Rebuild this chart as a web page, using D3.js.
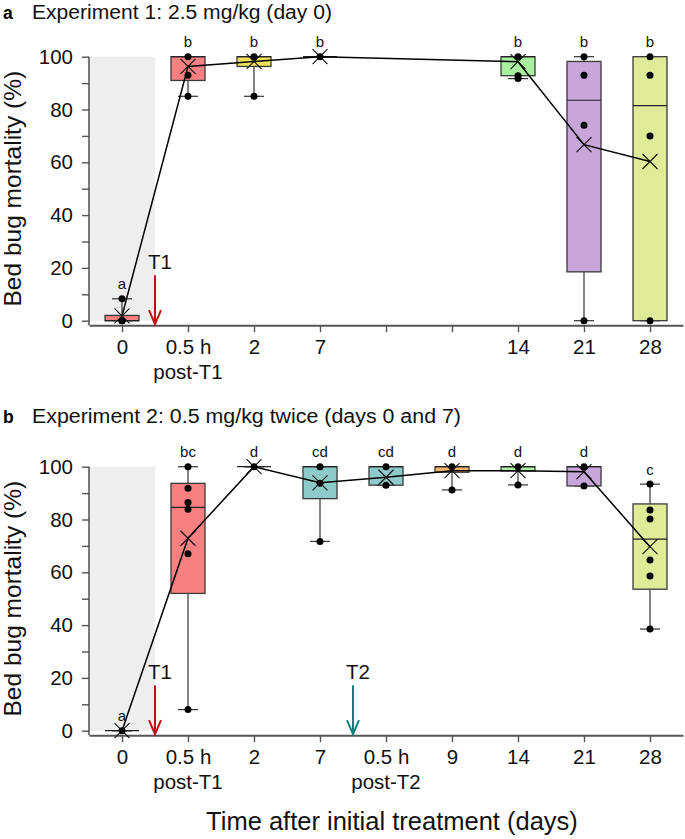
<!DOCTYPE html>
<html>
<head>
<meta charset="utf-8">
<script src="https://cdn.jsdelivr.net/npm/d3@7"></script>
<style>
  body { margin: 0; background: #fff; }
  svg { display: block; font-family: "Liberation Sans", Arial, sans-serif; }
</style>
</head>
<body>
<svg id="chart" width="685" height="839"></svg>
<script>
// ---------- data ----------
const tickLabelsA = ["0", "0.5 h", "2", "7", "", "", "14", "21", "28"];
const subLabelsA  = ["", "post-T1", "", "", "", "", "", "", ""];
const tickLabelsB = ["0", "0.5 h", "2", "7", "0.5 h", "9", "14", "21", "28"];
const subLabelsB  = ["", "post-T1", "", "", "post-T2", "", "", "", ""];

// Experiment 1 (panel a)
const posA     = [0, 1, 2, 3, 6, 7, 8];
const lettersA = ["a", "b", "b", "b", "b", "b", "b"];
const colorsA  = ["#f88080", "#f88080", "#f0e05a", "#8ecaca", "#a8f0a0", "#c8a6da", "#e0eb9a"];
const q1A   = [0, 91, 96.3, 100, 92.8, 18.5, 0];
const medA  = [0, 100, 100, 100, 100, 83.5, 81.5];
const q3A   = [2, 100, 100, 100, 100, 98.2, 100];
const loA   = [0, 85, 85, 100, 91.7, 0, 0];
const hiA   = [8.3, 100, 100, 100, 100, 100, 100];
const meanA = [1.8, 96.3, 98.2, 100, 98.1, 66.7, 60.3];
const ptsA  = [[8.3, 0, 0], [100, 93, 85], [100, 85], [100], [100, 92.8, 91.7], [100, 93, 74, 0], [100, 93, 70, 0]];

// Experiment 2 (panel b)
const posB     = [0, 1, 2, 3, 4, 5, 6, 7, 8];
const lettersB = ["a", "bc", "d", "cd", "cd", "d", "d", "d", "c"];
const colorsB  = ["#f88080", "#f88080", "#f0e05a", "#8ecaca", "#8ecaca", "#f7b46a", "#a8f0a0", "#c8a6da", "#e0eb9a"];
const q1B   = [0, 52, 100, 87.9, 93, 97.9, 98.4, 92.7, 53.6];
const medB  = [0, 84.6, 100, 100, 100, 100, 100, 100, 72.6];
const q3B   = [0, 93.7, 100, 100, 100, 100, 100, 100, 85.9];
const loB   = [0, 8, 100, 71.7, 93, 91.2, 93.1, 92.7, 38.5];
const hiB   = [0, 100, 100, 100, 100, 100, 100, 100, 93.4];
const meanB = [0, 72.9, 100, 93.9, 96, 98.5, 98.5, 98.1, 69.7];
const ptsB  = [[0], [100, 91.8, 86.4, 83.9, 67, 8], [100], [100, 93.7, 71.7], [100, 93], [100, 91.2], [100, 93.1], [100, 92.7], [93.4, 83.6, 80.2, 64.7, 58.6, 38.5]];

const yTicks = [0, 10, 20, 30, 40, 50, 60, 70, 80, 90, 100];

// ---------- drawing ----------
const svg = d3.select("#chart");
const x = d3.scaleLinear().domain([-0.5, 8.5]).range([89, 683]);
const boxW = 34, capW = 20;
const tickFont = 20.5;

function drawPanel(o) {
  const y = d3.scaleLinear().domain([0, 100]).range([o.y0, o.y0 - 264]);
  const axisY = o.y0 + 4.5;
  const g = svg.append("g");

  // title
  g.append("text").attr("x", 3).attr("y", o.titleY).attr("font-size", 17.5).attr("font-weight", "bold").text(o.tag);
  g.append("text").attr("x", 32).attr("y", o.titleY).attr("font-size", 19.5).attr("fill", "#111")
    .attr("textLength", o.titleLen).attr("lengthAdjust", "spacingAndGlyphs").text(o.title);

  // shaded region before treatment
  g.append("rect").attr("x", x(-0.5) + 1).attr("y", y(100))
    .attr("width", x(0.5) - x(-0.5) - 1).attr("height", y(0) - y(100)).attr("fill", "#eeeeee");

  // y axis
  const ya = g.append("g").attr("transform", `translate(${x(-0.5)},0)`)
    .call(d3.axisLeft(y).tickValues(yTicks).tickSize(7).tickSizeOuter(0)
      .tickFormat(d => d % 20 === 0 ? d : ""));
  ya.select(".domain").remove();
  ya.append("line").attr("x1", 0).attr("x2", 0).attr("y1", y(100)).attr("y2", axisY)
    .attr("stroke", "#555").attr("stroke-width", 1.6);
  ya.selectAll(".tick line").attr("stroke", "#555").attr("stroke-width", 1.4);
  ya.selectAll(".tick text").attr("font-size", tickFont).attr("fill", "#111").attr("x", -16)
    .attr("font-family", "Liberation Sans, Arial, sans-serif");

  // x axis
  const xa = g.append("g").attr("transform", `translate(0,${axisY})`)
    .call(d3.axisBottom(x).tickValues(d3.range(0, 9)).tickSize(7).tickSizeOuter(0)
      .tickFormat(i => o.labels[i]));
  xa.select(".domain").attr("stroke", "#555").attr("stroke-width", 2);
  xa.selectAll(".tick line").attr("stroke", "#555").attr("stroke-width", 1.4);
  xa.selectAll(".tick text").attr("font-size", tickFont).attr("fill", "#111").attr("dy", null).attr("y", 29)
    .attr("font-family", "Liberation Sans, Arial, sans-serif");
  o.subLabels.forEach((s, i) => {
    if (s) g.append("text").attr("x", x(i)).attr("y", axisY + 54).attr("text-anchor", "middle")
      .attr("font-size", tickFont).attr("fill", "#111").text(s);
  });

  // y label
  g.append("text").attr("transform", `translate(21,${y(50)}) rotate(-90)`)
    .attr("text-anchor", "middle").attr("font-size", 24.5).attr("fill", "#111").text("Bed bug mortality (%)");

  // treatment arrows
  o.arrows.forEach(a => {
    const ax = x(a.pos);
    const ag = g.append("g").attr("stroke", a.color).attr("stroke-width", 2).attr("fill", "none");
    ag.append("line").attr("x1", ax).attr("x2", ax).attr("y1", axisY - 50).attr("y2", axisY - 1);
    ag.append("path").attr("d", `M${ax - 6},${axisY - 15} L${ax},${axisY - 1} L${ax + 6},${axisY - 15}`);
    g.append("text").attr("x", ax + 5).attr("y", axisY - 56).attr("text-anchor", "middle")
      .attr("font-size", tickFont).attr("fill", "#111").text(a.label);
  });

  // boxes
  const data = o.pos.map((p, i) => ({
    p, q1: o.q1[i], med: o.med[i], q3: o.q3[i], lo: o.lo[i], hi: o.hi[i],
    mean: o.mean[i], pts: o.pts[i], letter: o.letters[i], color: o.colors[i]
  }));
  const bg = g.append("g");
  data.forEach(d => {
    const cx = x(d.p);
    const w = bg.append("g").attr("stroke", "#333").attr("stroke-width", 1.2);
    w.append("line").attr("x1", cx).attr("x2", cx).attr("y1", y(d.q3)).attr("y2", y(d.hi));
    w.append("line").attr("x1", cx).attr("x2", cx).attr("y1", y(d.q1)).attr("y2", y(d.lo));
    w.append("line").attr("x1", cx - capW / 2).attr("x2", cx + capW / 2).attr("y1", y(d.hi)).attr("y2", y(d.hi));
    w.append("line").attr("x1", cx - capW / 2).attr("x2", cx + capW / 2).attr("y1", y(d.lo)).attr("y2", y(d.lo));
    bg.append("rect").attr("x", cx - boxW / 2).attr("y", y(d.q3)).attr("width", boxW)
      .attr("height", Math.max(0, y(d.q1) - y(d.q3))).attr("fill", d.color)
      .attr("stroke", "#3a3a3a").attr("stroke-width", 1.3);
    bg.append("line").attr("x1", cx - boxW / 2).attr("x2", cx + boxW / 2).attr("y1", y(d.med)).attr("y2", y(d.med))
      .attr("stroke", "#222").attr("stroke-width", 1.2);
    d.pts.forEach(v => bg.append("circle").attr("cx", cx).attr("cy", y(v)).attr("r", 3.5).attr("fill", "#000"));
    const my = y(d.mean), s = 7.5;
    bg.append("path").attr("d", `M${cx - s},${my - s}L${cx + s},${my + s}M${cx - s},${my + s}L${cx + s},${my - s}`)
      .attr("stroke", "#111").attr("stroke-width", 1.1).attr("fill", "none");
    g.append("text").attr("x", cx).attr("y", y(d.hi) - 9.3).attr("text-anchor", "middle")
      .attr("font-size", 15).attr("fill", "#111").text(d.letter);
  });

  // mean line
  g.append("path").datum(data)
    .attr("d", d3.line().x(d => x(d.p)).y(d => y(d.mean)))
    .attr("fill", "none").attr("stroke", "#000").attr("stroke-width", 1.5);
}

drawPanel({
  tag: "a", title: "Experiment 1: 2.5 mg/kg (day 0)", titleY: 19, titleLen: 300, y0: 320.7,
  labels: tickLabelsA, subLabels: subLabelsA,
  pos: posA, letters: lettersA, colors: colorsA, q1: q1A, med: medA, q3: q3A,
  lo: loA, hi: hiA, mean: meanA, pts: ptsA,
  arrows: [{ pos: 0.5, color: "#c01018", label: "T1" }]
});
drawPanel({
  tag: "b", title: "Experiment 2: 0.5 mg/kg twice (days 0 and 7)", titleY: 422.5, titleLen: 429, y0: 730.7,
  labels: tickLabelsB, subLabels: subLabelsB,
  pos: posB, letters: lettersB, colors: colorsB, q1: q1B, med: medB, q3: q3B,
  lo: loB, hi: hiB, mean: meanB, pts: ptsB,
  arrows: [{ pos: 0.5, color: "#c01018", label: "T1" }, { pos: 3.5, color: "#138080", label: "T2" }]
});

svg.append("text").attr("x", 392).attr("y", 830).attr("text-anchor", "middle")
  .attr("font-size", 25.5).attr("fill", "#111").text("Time after initial treatment (days)");
</script>
</body>
</html>
